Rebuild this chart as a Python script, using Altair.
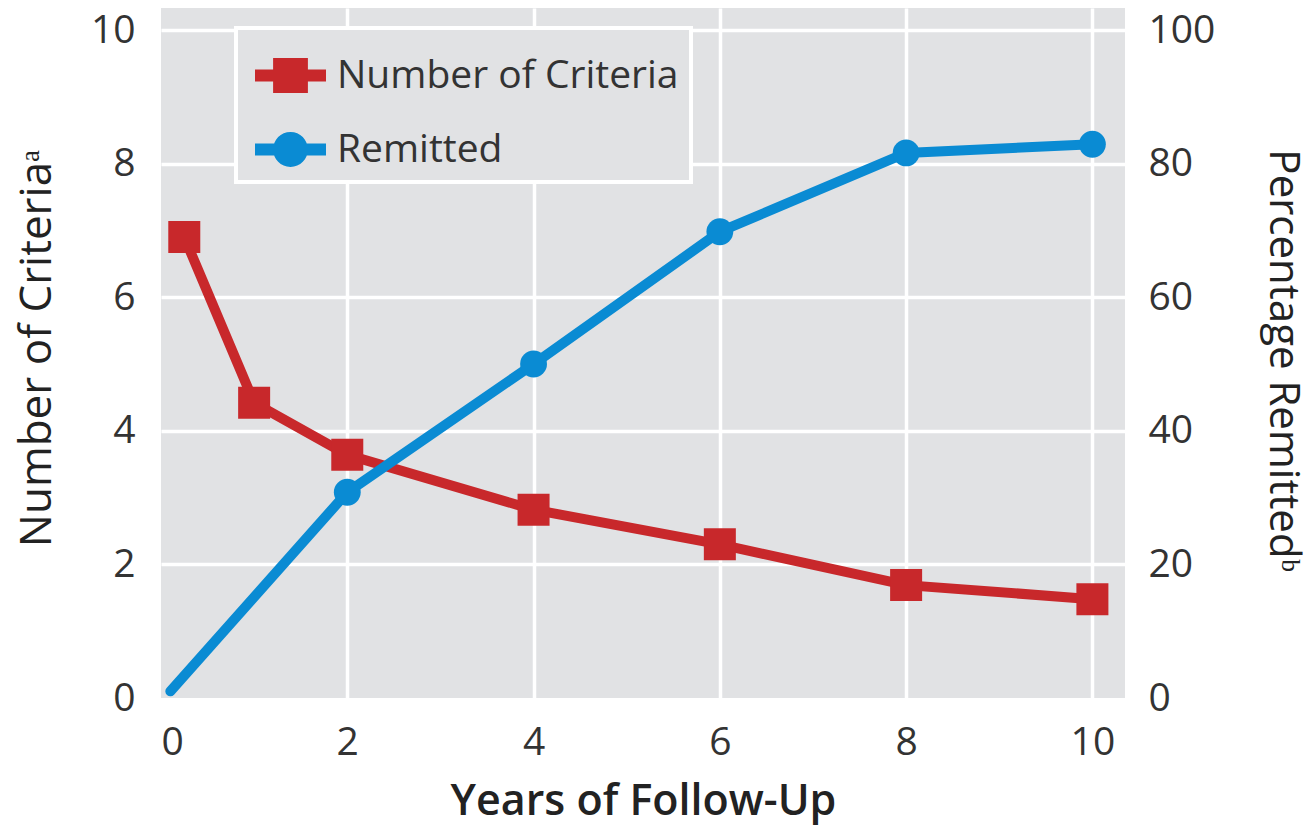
import altair as alt
import pandas as pd

# Data
years_criteria = [0.25, 1, 2, 4, 6, 8, 10]
criteria = [6.9, 4.42, 3.64, 2.82, 2.3, 1.69, 1.48]

years_remit = [0.1, 2, 4, 6, 8, 10]
remitted = [1.0, 30.8, 50.0, 69.8, 81.6, 82.9]
remit_marker = [False, True, True, True, True, True]

series_names = ["Number of Criteria", "Remitted"]
x_ticks = [0, 2, 4, 6, 8, 10]
left_ticks = [0, 2, 4, 6, 8, 10]
right_ticks = [0, 20, 40, 60, 80, 100]

RED = "#c8282b"
BLUE = "#0a8bd3"
BG = "#e1e2e4"
FONT = "Open Sans"
LBL = 39

crit_df = pd.DataFrame({"year": years_criteria, "value": criteria})
rem_df = pd.DataFrame({"year": years_remit, "value": remitted, "marker": remit_marker})
legend_df = pd.DataFrame({"series": series_names})

no_zero = {"condition": {"test": "datum.value === 0", "value": 0}, "value": 1}

x_enc = alt.X(
    "year:Q",
    scale=alt.Scale(domain=[0, 10.35], nice=False, zero=False),
    axis=alt.Axis(
        values=x_ticks, title="Years of Follow-Up", grid=True, gridColor="white",
        gridWidth=3.5, gridOpacity=no_zero, ticks=False, tickSize=0, domain=False,
        labelFontSize=LBL, labelColor="#333333", labelFont=FONT, labelPadding=25,
        labelBaseline="top",
        titleFont=FONT, titleFontSize=43, titleFontWeight=600, titleColor="#222222",
        titleX=482, titleY=103, titleBaseline="middle", titleAlign="center",
    ),
)

left_y = alt.Y(
    "value:Q",
    scale=alt.Scale(domain=[0, 10.33], nice=False),
    axis=alt.Axis(
        values=left_ticks, title="Number of Criteriaᵃ", orient="left", grid=True,
        gridColor="white", gridWidth=3.5, gridOpacity=no_zero, ticks=False, tickSize=0,
        domain=False, labelFontSize=LBL, labelColor="#333333", labelFont=FONT,
        labelPadding=26,
        titleFont=FONT, titleFontSize=44, titleFontWeight=500, titleColor="#222222",
        titleAngle=270, titleX=-124, titleY=340, titleBaseline="middle", titleAlign="center",
    ),
)

right_y = alt.Y(
    "value:Q",
    scale=alt.Scale(domain=[0, 103.3], nice=False),
    axis=alt.Axis(
        values=right_ticks, title="Percentage Remittedᵇ", orient="right", grid=False,
        ticks=False, tickSize=0, domain=False, labelFontSize=LBL, labelColor="#333333",
        labelFont=FONT, labelPadding=23,
        titleFont=FONT, titleFontSize=42, titleFontWeight=500, titleColor="#222222",
        titleAngle=90, titleX=157, titleY=352, titleBaseline="middle", titleAlign="center",
    ),
)

crit_line = alt.Chart(crit_df).mark_line(color=RED, strokeWidth=10, strokeJoin="miter")
crit_pts = alt.Chart(crit_df).mark_point(
    shape="square", filled=True, color=RED, size=1024, opacity=1
)
left_group = alt.layer(crit_line, crit_pts).encode(x=x_enc, y=left_y)

rem_line = alt.Chart(rem_df).mark_line(color=BLUE, strokeWidth=10, strokeCap="round")
rem_pts = alt.Chart(rem_df).transform_filter("datum.marker").mark_point(
    shape="circle", filled=True, color=BLUE, size=720, opacity=1
)
right_group = alt.layer(rem_line, rem_pts).encode(x=x_enc, y=right_y)

sq_path = "M-1,-0.17H1V0.17H-1Z M-0.49,-0.49H0.49V0.49H-0.49Z"
ci_path = "M-1,-0.17H1V0.17H-1Z M0.49,0A0.49,0.49 0 1,1 -0.49,0A0.49,0.49 0 1,1 0.49,0Z"

legend_layer = alt.Chart(legend_df).transform_filter("false").mark_point(
    filled=True, opacity=1, size=5041
).encode(
    x=alt.value(0),
    y=alt.value(0),
    color=alt.Color(
        "series:N",
        scale=alt.Scale(domain=series_names, range=[RED, BLUE]),
        legend=alt.Legend(
            title=None, orient="none", legendX=75, legendY=20, padding=12,
            fillColor=BG, strokeColor="white", symbolSize=5041, symbolOffset=7,
            symbolStrokeWidth=0, rowPadding=18, labelFontSize=LBL, labelFont=FONT,
            labelColor="#333333", labelOffset=11, labelLimit=600,
        ),
    ),
    shape=alt.Shape(
        "series:N",
        scale=alt.Scale(domain=series_names, range=[sq_path, ci_path]),
    ),
)

chart = (
    alt.layer(left_group, right_group, legend_layer)
    .resolve_scale(y="independent")
    .properties(
        width=964,
        height=690,
        autosize=alt.AutoSizeParams(type="none"),
        padding={"left": 161, "top": 8, "right": 190, "bottom": 130},
        background="white",
    )
    .configure_view(fill=BG, stroke=None)
    .configure_legend(strokeWidth=4)
)

chart.save("out.html", embed_options={"renderer": "svg", "actions": False})
